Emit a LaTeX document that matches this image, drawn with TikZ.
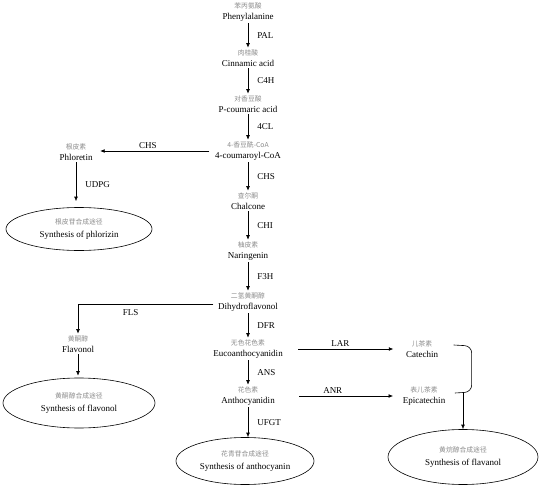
\documentclass[tikz,border=0pt]{standalone}
\usepackage{fontspec}
\setmainfont{Liberation Serif}
\newfontfamily\cjk{Noto Sans CJK SC}
\usetikzlibrary{positioning, arrows.meta, shapes.geometric, calc}
\definecolor{GrayCn}{HTML}{8C8C8C}
\tikzset{
  cpd/.style={align=center, inner sep=1.5pt, font=\fontsize{9}{11.5}\selectfont},
  route/.style={draw, ellipse, line width=0.6pt, align=center, inner sep=0pt,
                font=\fontsize{9}{12.5}\selectfont},
  arr/.style={-{Latex[length=4.5pt,width=3.8pt]}, line width=0.6pt},
  enz/.style={font=\fontsize{9}{10}\selectfont, inner sep=2pt}
}
\newcommand{\cn}[1]{{\cjk\fontsize{6.8}{8}\selectfont\color{GrayCn}#1}}

\begin{document}
\begin{tikzpicture}[x=1pt, y=-1pt]
  \useasboundingbox (0,0) rectangle (542,490);

  % ----- main chain -----
  \node[cpd] (phe)   at (248,12)  {\cn{苯丙氨酸}\\Phenylalanine};
  \node[cpd] (cin)   at (248,58)  {\cn{肉桂酸}\\Cinnamic acid};
  \node[cpd] (pcou)  at (248,104) {\cn{对香豆酸}\\P-coumaric acid};
  \node[cpd] (coa)   at (248,151) {\cn{4-香豆酰-CoA}\\4-coumaroyl-CoA};
  \node[cpd] (chal)  at (248,201) {\cn{查尔酮}\\Chalcone};
  \node[cpd] (nar)   at (248,251) {\cn{柚皮素}\\Naringenin};
  \node[cpd] (dhf)   at (248,302) {\cn{二氢黄酮醇}\\Dihydroflavonol};
  \node[cpd] (euc)   at (248,349) {\cn{无色花色素}\\Eucoanthocyanidin};
  \node[cpd] (antho) at (248,396) {\cn{花色素}\\Anthocyanidin};

  % ----- side branches -----
  \node[cpd] (phlo) at (76,152)  {\cn{根皮素}\\Phloretin};
  \node[cpd] (flav) at (78,344)  {\cn{黄酮醇}\\Flavonol};
  \node[cpd] (cat)  at (422,349) {\cn{儿茶素}\\Catechin};
  \node[cpd] (epi)  at (424,396) {\cn{表儿茶素}\\Epicatechin};

  % ----- end routes -----
  \node[route, minimum width=146pt, minimum height=43pt] (phlz) at (79,229)
    {\cn{根皮苷合成途径}\\Synthesis of phlorizin};
  \node[route, minimum width=152pt, minimum height=50pt] (flvl) at (79,403)
    {\cn{黄酮醇合成途径}\\Synthesis of flavonol};
  \node[route, minimum width=138pt, minimum height=47pt] (anth) at (245,461)
    {\cn{花青苷合成途径}\\Synthesis of anthocyanin};
  \node[route, minimum width=150pt, minimum height=55pt] (flvn) at (463,457)
    {\cn{黄烷醇合成途径}\\Synthesis of flavanol};

  % ----- main chain arrows -----
  \draw[arr] (phe)   -- node[enz, right=7pt] {PAL}  (cin);
  \draw[arr] (cin)   -- node[enz, right=7pt] {C4H}  (pcou);
  \draw[arr] (pcou)  -- node[enz, right=7pt] {4CL}  (coa);
  \draw[arr] (coa)   -- node[enz, right=7pt] {CHS}  (chal);
  \draw[arr] (chal)  -- node[enz, right=7pt] {CHI}  (nar);
  \draw[arr] (nar)   -- node[enz, right=7pt] {F3H}  (dhf);
  \draw[arr] (dhf)   -- node[enz, right=7pt] {DFR}  (euc);
  \draw[arr] (euc)   -- node[enz, right=7pt] {ANS}  (antho);
  \draw[arr] (antho) -- node[enz, right=7pt] {UFGT} (antho |- anth.north);

  % ----- branches -----
  \draw[arr, shorten <=4pt, shorten >=6pt] (coa.west) -- node[enz, above, xshift=-6pt] {CHS} (coa.west -| phlo.east);
  \draw[arr, shorten >=6pt] (phlo) -- node[enz, right=7pt] {UDPG} (phlo |- phlz.north);
  \draw[arr, shorten <=3pt] ($(dhf.west)+(0,2)$) -| node[enz, below=3pt, pos=0.31] {FLS} (flav.north);
  \draw[arr, shorten >=2pt] (flav) -- (flav |- flvl.north);
  \draw[arr, shorten <=14pt, shorten >=11pt] (euc.east) -- node[enz, above, xshift=-4pt] {LAR} (euc.east -| cat.west);
  \draw[arr, shorten <=23pt, shorten >=8pt] (antho.east) -- node[enz, above, xshift=-6pt] {ANR} (antho.east -| epi.west);

  % ----- catechin + epicatechin join -----
  \coordinate (bt) at ($(cat.east)+(14,-4)$);
  \coordinate (bb) at ($(epi.east)+(8,-3)$);
  \coordinate (bj) at (463,393);
  \draw[line width=0.6pt, rounded corners=7pt] (bt) -- ++(18,1) -- ++(0,46) -- (bb);
  \draw[arr] (bj) -- (bj |- flvn.north);
\end{tikzpicture}
\end{document}
